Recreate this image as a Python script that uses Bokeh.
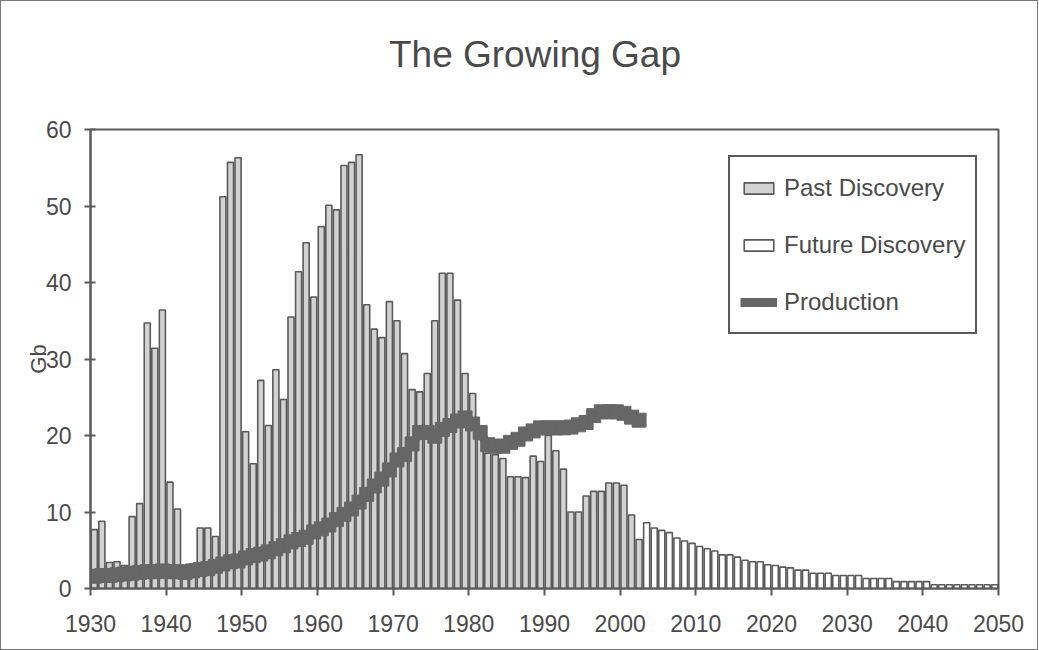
from bokeh.plotting import figure
from bokeh.models import Range1d, FixedTicker, Legend, LegendItem, ColumnDataSource, Div
from bokeh.layouts import column
from bokeh.embed import file_html
from bokeh.resources import INLINE

# ---- data (Gb per year) ----
past_years = list(range(1930, 2003))
past_discovery = [
    7.7, 8.8, 3.4, 3.5, 3.0, 9.4, 11.1, 34.7, 31.4, 36.4,   # 1930-1939
    13.9, 10.4, 1.4, 3.2, 7.9, 7.9, 6.8, 51.2, 55.7, 56.3,  # 1940-1949
    20.5, 16.3, 27.2, 21.3, 28.6, 24.7, 35.5, 41.4, 45.2, 38.1,  # 1950-1959
    47.3, 50.1, 49.5, 55.3, 55.7, 56.7, 37.1, 33.9, 32.8, 37.5,  # 1960-1969
    35.0, 30.7, 26.0, 25.7, 28.1, 35.0, 41.2, 41.2, 37.7, 28.1,  # 1970-1979
    25.5, 19.5, 17.7, 17.5, 17.0, 14.6, 14.6, 14.5, 17.3, 16.6,  # 1980-1989
    20.0, 18.0, 15.6, 10.0, 10.0, 12.1, 12.7, 12.7, 13.8, 13.8,  # 1990-1999
    13.5, 9.6, 6.4,                                              # 2000-2002
]
future_years = list(range(2003, 2050))
future_discovery = [
    8.6, 7.9, 7.6, 7.3, 6.6, 6.2, 5.9,                           # 2003-2009
    5.5, 5.2, 4.9, 4.4, 4.4, 4.1, 3.7, 3.5, 3.5, 3.1,            # 2010-2019
    3.0, 2.8, 2.7, 2.4, 2.4, 2.0, 2.0, 2.0, 1.7, 1.7,            # 2020-2029
    1.7, 1.7, 1.3, 1.3, 1.3, 1.3, 0.9, 0.9, 0.9, 0.9,            # 2030-2039
    0.9, 0.5, 0.5, 0.5, 0.5, 0.5, 0.5, 0.5, 0.5, 0.5,            # 2040-2049
]
production_years = list(range(1930, 2003))
production = [
    1.6, 1.7, 1.7, 1.8, 1.9, 2.0, 2.1, 2.2, 2.2, 2.3,   # 1930-1939
    2.2, 2.2, 2.1, 2.3, 2.5, 2.6, 2.9, 3.2, 3.5, 3.6,   # 1940-1949
    4.0, 4.3, 4.5, 4.8, 5.2, 5.6, 6.1, 6.4, 6.7, 7.4,   # 1950-1959
    7.8, 8.3, 9.0, 9.7, 10.4, 11.3, 12.3, 13.4, 14.3, 15.5,  # 1960-1969
    16.8, 17.5, 18.9, 20.4, 20.4, 19.9, 20.8, 21.3, 21.9, 22.3,  # 1970-1979
    21.5, 20.4, 18.8, 18.6, 18.6, 19.1, 19.5, 20.2, 20.6, 21.0,  # 1980-1989
    21.0, 21.0, 21.0, 21.1, 21.4, 21.7, 22.6, 23.1, 23.1, 23.1,  # 1990-1999
    22.9, 22.4, 22.0,                                            # 2000-2002
]
x_ticks = list(range(1930, 2051, 10))
y_ticks = [0, 10, 20, 30, 40, 50, 60]
chart_title = "The Growing Gap"

TXT = "#4a4a4a"
EDGE = "#5a5a5a"
FONT = "Liberation Sans"

title_div = Div(
    text=('<div style="box-sizing:border-box; width:1036px; text-align:center; padding-left:32px;'
          ' font-family:\'Liberation Sans\'; font-size:37px; line-height:108px; color:%s;'
          ' white-space:nowrap;">%s</div>' % (TXT, chart_title)),
    width=1036, height=110, margin=0)

fig = figure(width=1036, height=538, output_backend="svg", toolbar_location=None,
             x_range=Range1d(1930, 2050), y_range=Range1d(0, 60),
             min_border_left=89, min_border_right=39, min_border_bottom=61, min_border_top=18)
fig.title = None
fig.margin = 0

src_past = ColumnDataSource(dict(x=[y + 0.5 for y in past_years], top=past_discovery))
src_fut = ColumnDataSource(dict(x=[y + 0.5 for y in future_years], top=future_discovery))
src_prod = ColumnDataSource(dict(x=[y + 0.5 for y in production_years], y=production))

r_past = fig.vbar(x="x", top="top", width=0.8, bottom=0, source=src_past,
                  fill_color="#d2d2d2", line_color=EDGE, line_width=1.6)
r_fut = fig.vbar(x="x", top="top", width=0.8, bottom=0, source=src_fut,
                 fill_color="white", line_color=EDGE, line_width=1.6)
r_line = fig.line(x="x", y="y", source=src_prod, line_color="#666666", line_width=9)
r_mark = fig.scatter(x="x", y="y", source=src_prod, marker="square", size=14,
                     fill_color="#666666", line_color="#666666")

fig.xgrid.visible = False
fig.ygrid.visible = False
fig.outline_line_color = EDGE
fig.outline_line_width = 2
fig.outline_line_alpha = 1
fig.background_fill_color = "white"
fig.border_fill_color = "white"

fig.xaxis.ticker = FixedTicker(ticks=x_ticks)
fig.yaxis.ticker = FixedTicker(ticks=y_ticks)
for ax in (fig.xaxis[0], fig.yaxis[0]):
    ax.axis_line_color = EDGE
    ax.axis_line_width = 2
    ax.major_tick_line_color = EDGE
    ax.major_tick_line_width = 2
    ax.minor_tick_line_color = None
    ax.major_label_text_color = TXT
    ax.major_label_text_font = FONT
    ax.major_label_text_font_size = "23px"
fig.xaxis.major_tick_in = 0
fig.xaxis.major_tick_out = 7
fig.xaxis.major_label_standoff = 19
fig.yaxis.major_tick_in = 5
fig.yaxis.major_tick_out = 6
fig.yaxis.major_label_standoff = 13
fig.yaxis.axis_label = "Gb"
fig.yaxis.axis_label_text_font = FONT
fig.yaxis.axis_label_text_font_style = "normal"
fig.yaxis.axis_label_text_font_size = "22px"
fig.yaxis.axis_label_text_color = TXT
fig.yaxis.axis_label_standoff = -8

legend = Legend(items=[
    LegendItem(label="Past Discovery", renderers=[r_past]),
    LegendItem(label="Future Discovery", renderers=[r_fut]),
    LegendItem(label="Production", renderers=[r_line, r_mark]),
], location=(638, 254))
legend.padding = 10
legend.spacing = 16
legend.glyph_width = 37
legend.glyph_height = 14
legend.label_height = 41
legend.label_standoff = 7
legend.label_text_font = FONT
legend.label_text_font_size = "24px"
legend.label_text_color = TXT
legend.border_line_color = EDGE
legend.border_line_width = 2
legend.border_line_alpha = 1
legend.background_fill_color = "white"
legend.background_fill_alpha = 1
fig.add_layout(legend)

p = column(title_div, fig, spacing=0, margin=0)
p.styles = {"border": "1px solid #777"}

open("out.html", "w").write(file_html(p, INLINE))
